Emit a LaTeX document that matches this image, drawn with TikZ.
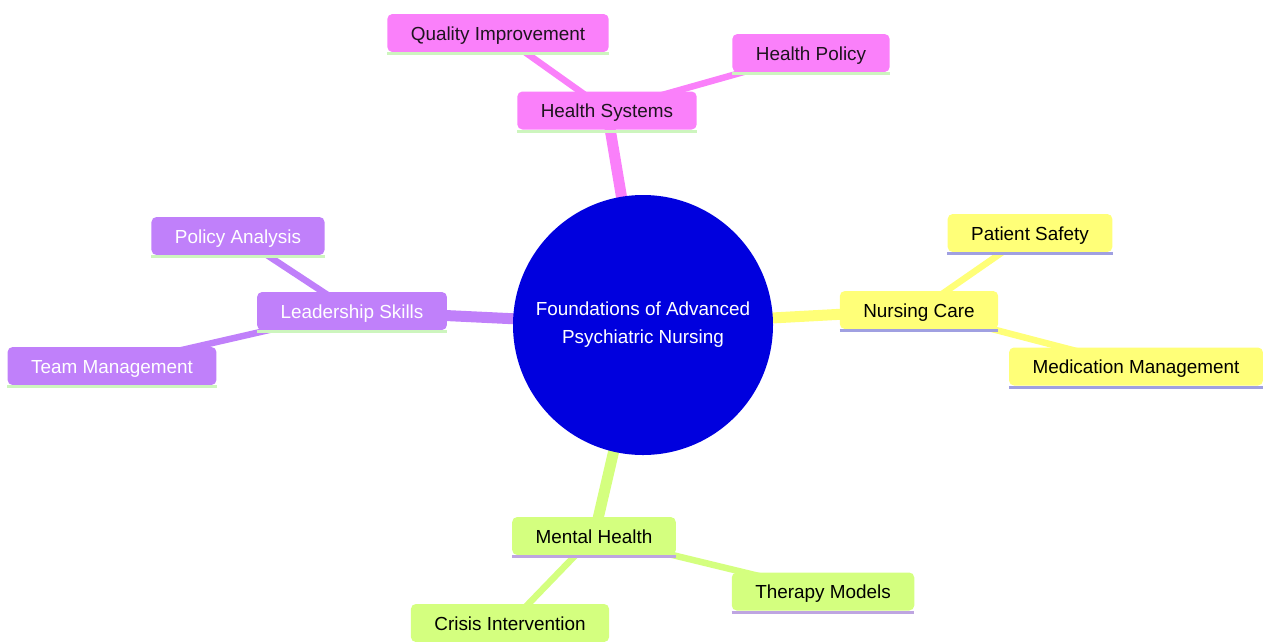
\documentclass[tikz,border=0pt]{standalone}
\usepackage{fontspec}
\setmainfont{Liberation Sans}
\usetikzlibrary{backgrounds}
\definecolor{pinkf}{RGB}{250,128,250}
\definecolor{purpf}{RGB}{192,128,250}
\definecolor{yellf}{RGB}{255,255,120}
\definecolor{greenf}{RGB}{212,255,127}
\definecolor{pinkl}{RGB}{205,245,190}
\definecolor{yelll}{RGB}{160,160,225}
\definecolor{greenl}{RGB}{190,165,225}
\definecolor{rootf}{RGB}{0,0,222}
\definecolor{darktxt}{RGB}{30,20,30}
\tikzset{
  x=1pt,y=-1pt,
  mbox/.style={rectangle, rounded corners=5pt, inner xsep=23.5pt, inner ysep=0pt,
    text height=16pt, text depth=2pt,
    minimum height=38pt, font=\fontsize{18.9}{22}\selectfont, text=darktxt},
  pbox/.style={mbox, fill=pinkf},
  ubox/.style={mbox, fill=purpf, text=white},
  ybox/.style={mbox, fill=yellf, text=black},
  gbox/.style={mbox, fill=greenf, text=black},
  rootedge/.style={line width=11pt},
  childedge/.style={line width=6.5pt},
}
\newcommand{\bline}[2]{\draw[#2, line width=3pt] ([yshift=-1.5pt]#1.south west) -- ([yshift=-1.5pt]#1.south east);}
\begin{document}
\begin{tikzpicture}
\useasboundingbox (0,0) rectangle (1264,641);
\node[circle, fill=rootf, minimum size=260pt, text=white, align=center,
  font=\fontsize{18.9}{28}\selectfont] (root) at (643,325)
  {Foundations of Advanced\\Psychiatric Nursing};
% Health Systems
\node[pbox] (hs) at (607,110.5) {Health Systems};
\node[pbox] (qi) at (498,33) {Quality Improvement};
\node[pbox] (hp) at (811,53) {Health Policy};
% Leadership
\node[ubox] (ls) at (352,311) {Leadership Skills};
\node[ubox] (pa) at (238,236) {Policy Analysis};
\node[ubox] (tm) at (112,366) {Team Management};
% Nursing
\node[ybox] (nc) at (919,310) {Nursing Care};
\node[ybox] (ps) at (1030,233) {Patient Safety};
\node[ybox] (mm) at (1136,366.5) {Medication Management};
% Mental
\node[gbox] (mh) at (594,536) {Mental Health};
\node[gbox] (tmo) at (823,591.5) {Therapy Models};
\node[gbox] (ci) at (510,623) {Crisis Intervention};
\bline{hs}{pinkl}\bline{qi}{pinkl}\bline{hp}{pinkl}
\bline{ls}{pinkl}\bline{pa}{pinkl}\bline{tm}{pinkl}
\bline{nc}{yelll}\bline{ps}{yelll}\bline{mm}{yelll}
\bline{mh}{greenl}\bline{tmo}{greenl}\bline{ci}{greenl}
\begin{scope}[on background layer]
\draw[rootedge, pinkf] (root.center) -- (hs.center);
\draw[childedge, pinkf] (hs.center) -- (qi.center);
\draw[childedge, pinkf] (hs.center) -- (hp.center);
\draw[rootedge, purpf] (root.center) -- (ls.center);
\draw[childedge, purpf] (ls.center) -- (pa.center);
\draw[childedge, purpf] (ls.center) -- (tm.center);
\draw[rootedge, yellf] (root.center) -- (nc.center);
\draw[childedge, yellf] (nc.center) -- (ps.center);
\draw[childedge, yellf] (nc.center) -- (mm.center);
\draw[rootedge, greenf] (root.center) -- (mh.center);
\draw[childedge, greenf] (mh.center) -- (tmo.center);
\draw[childedge, greenf] (mh.center) -- (ci.center);
\end{scope}
\end{tikzpicture}
\end{document}
